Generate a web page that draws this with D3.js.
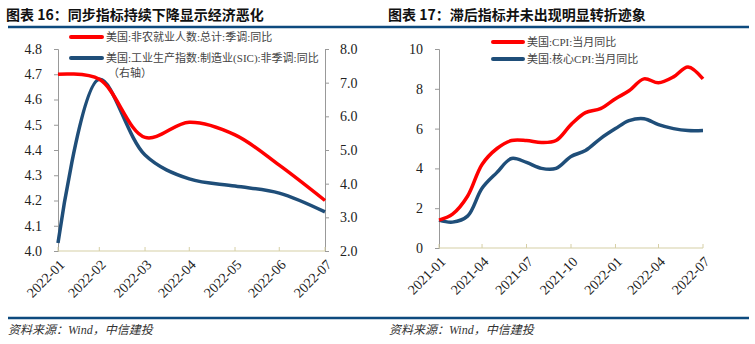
<!DOCTYPE html>
<html><head><meta charset="utf-8">
<script src="https://cdn.jsdelivr.net/npm/d3@7"></script>
<style>
body{margin:0;background:#fff;}
svg{display:block;}
</style></head>
<body>
<svg id="c" width="755" height="344"></svg>
<script>
// ---- Data: chart 16 ----
const months16 = ["2022-01","2022-02","2022-03","2022-04","2022-05","2022-06","2022-07"];
const payrollYoY = [4.70, 4.68, 4.45, 4.51, 4.46, 4.34, 4.20];
const mfgIPYoY   = [2.24, 7.10, 4.85, 4.14, 3.93, 3.72, 3.16];
const leftTicks16 = [4.0, 4.1, 4.2, 4.3, 4.4, 4.5, 4.6, 4.7, 4.8];
const rightTicks16 = [2.0, 3.0, 4.0, 5.0, 6.0, 7.0, 8.0];
// ---- Data: chart 17 ----
const months17 = ["2021-01","2021-02","2021-03","2021-04","2021-05","2021-06","2021-07","2021-08","2021-09","2021-10","2021-11","2021-12","2022-01","2022-02","2022-03","2022-04","2022-05","2022-06","2022-07"];
const cpiYoY     = [1.4, 1.7, 2.6, 4.2, 5.0, 5.4, 5.4, 5.3, 5.4, 6.2, 6.8, 7.0, 7.5, 7.9, 8.5, 8.3, 8.6, 9.1, 8.5];
const coreCpiYoY = [1.4, 1.3, 1.6, 3.0, 3.8, 4.5, 4.3, 4.0, 4.0, 4.6, 4.9, 5.5, 6.0, 6.4, 6.5, 6.2, 6.0, 5.9, 5.9];
const xTicks17 = ["2021-01","2021-04","2021-07","2021-10","2022-01","2022-04","2022-07"];
const yTicks17 = [0, 2, 4, 6, 8, 10];

const RED = "#ff0000", BLUE = "#1f4e79", NAVY = "#0d4a7e";
const SERIF = "'Liberation Serif','Times New Roman',serif";
const CJK = "'Liberation Serif','Noto Sans CJK SC',serif";
const svg = d3.select("#c");

// month-end date
const mEnd = s => { const [y,m] = s.split("-").map(Number); return new Date(y, m, 0); };

// Header / footer rules
svg.append("line").attr("x1",8).attr("x2",749).attr("y1",27).attr("y2",27).attr("stroke",NAVY).attr("stroke-width",2.5);
svg.append("line").attr("x1",8).attr("x2",749).attr("y1",318).attr("y2",318).attr("stroke",NAVY).attr("stroke-width",2.5);

function title(x, t){
  svg.append("text").attr("x",x).attr("y",20).attr("font-family","'Noto Sans CJK SC','Liberation Serif',sans-serif")
    .attr("font-weight","bold").attr("font-size",14).attr("fill","#111").text(t);
}
title(6, "图表 16：同步指标持续下降显示经济恶化");
title(388, "图表 17：滞后指标并未出现明显转折迹象");
function source(x){
  svg.append("text").attr("x",x).attr("y",334).attr("font-family",CJK).attr("font-style","italic")
    .attr("font-size",12).attr("fill","#333").text("资料来源：Wind，中信建投");
}
source(8); source(389);

function xAxis(g, x, ticks, y0){
  g.append("line").attr("x1",x.range()[0]).attr("x2",x.range()[1]).attr("y1",y0).attr("y2",y0)
    .attr("stroke","#d6cfa6").attr("stroke-width",1.2);
  ticks.forEach(t => {
    const px = x(mEnd(t));
    g.append("line").attr("x1",px).attr("x2",px).attr("y1",y0).attr("y2",y0-4).attr("stroke","#d6cfa6");
    g.append("text").attr("transform",`translate(${px+4},${y0+11}) rotate(-45)`)
      .attr("text-anchor","end").attr("dy","0.35em").attr("font-family",SERIF).attr("font-size",14)
      .attr("fill","#222").text(t);
  });
}
function styleAxis(g){
  g.selectAll(".domain").attr("stroke","#999");
  g.selectAll(".tick line").attr("stroke","#999");
  g.selectAll(".tick text").attr("font-family",SERIF).attr("font-size",14).attr("fill","#222");
}
function legend(x1, x2, y, color, lines){
  svg.append("line").attr("x1",x1).attr("x2",x2).attr("y1",y).attr("y2",y).attr("stroke",color)
    .attr("stroke-width",4).attr("stroke-linecap","round");
  lines.forEach((t,i) => svg.append("text").attr("x", x2+4 + (i?2:0)).attr("y", y + i*15).attr("dy","0.35em")
    .attr("font-family",CJK).attr("font-size",11).attr("fill","#444").text(t));
}

// ---------- Chart 16 ----------
{
  const x = d3.scaleTime().domain([mEnd(months16[0]), mEnd(months16[months16.length-1])]).range([58,325]);
  const yL = d3.scaleLinear().domain([4.0,4.8]).range([251,49]);
  const yR = d3.scaleLinear().domain([2.0,8.0]).range([251,49]);
  const g = svg.append("g");
  styleAxis(g.append("g").attr("transform","translate(58,0)")
    .call(d3.axisLeft(yL).tickValues(leftTicks16).tickFormat(d3.format(".1f")).tickSize(4).tickPadding(12)));
  styleAxis(g.append("g").attr("transform","translate(325,0)")
    .call(d3.axisRight(yR).tickValues(rightTicks16).tickFormat(d3.format(".1f")).tickSize(4).tickPadding(11)));
  xAxis(g, x, months16, 251);
  const curve = d3.curveCatmullRom.alpha(0.5);
  g.append("path").datum(mfgIPYoY).attr("fill","none").attr("stroke",BLUE).attr("stroke-width",3.5)
    .attr("d", d3.line().x((d,i)=>x(mEnd(months16[i]))).y(d=>yR(d)).curve(curve));
  g.append("path").datum(payrollYoY).attr("fill","none").attr("stroke",RED).attr("stroke-width",3.5)
    .attr("d", d3.line().x((d,i)=>x(mEnd(months16[i]))).y(d=>yL(d)).curve(curve));
  legend(71, 102, 37, RED, ["美国:非农就业人数:总计:季调:同比"]);
  legend(71, 102, 58, BLUE, ["美国:工业生产指数:制造业(SIC):非季调:同比", "（右轴）"]);
}

// ---------- Chart 17 ----------
{
  const x = d3.scaleTime().domain([mEnd(months17[0]), mEnd(months17[months17.length-1])]).range([439,703]);
  const y = d3.scaleLinear().domain([0,10]).range([248,49]);
  const g = svg.append("g");
  styleAxis(g.append("g").attr("transform","translate(439,0)")
    .call(d3.axisLeft(y).tickValues(yTicks17).tickFormat(d3.format("d")).tickSize(4).tickPadding(12)));
  xAxis(g, x, xTicks17, 248);
  const curve = d3.curveCatmullRom.alpha(0.5);
  g.append("path").datum(coreCpiYoY).attr("fill","none").attr("stroke",BLUE).attr("stroke-width",3.5)
    .attr("d", d3.line().x((d,i)=>x(mEnd(months17[i]))).y(d=>y(d)).curve(curve));
  g.append("path").datum(cpiYoY).attr("fill","none").attr("stroke",RED).attr("stroke-width",3.5)
    .attr("d", d3.line().x((d,i)=>x(mEnd(months17[i]))).y(d=>y(d)).curve(curve));
  legend(493, 523, 42, RED, ["美国:CPI:当月同比"]);
  legend(493, 523, 59, BLUE, ["美国:核心CPI:当月同比"]);
}
</script>
</body></html>
